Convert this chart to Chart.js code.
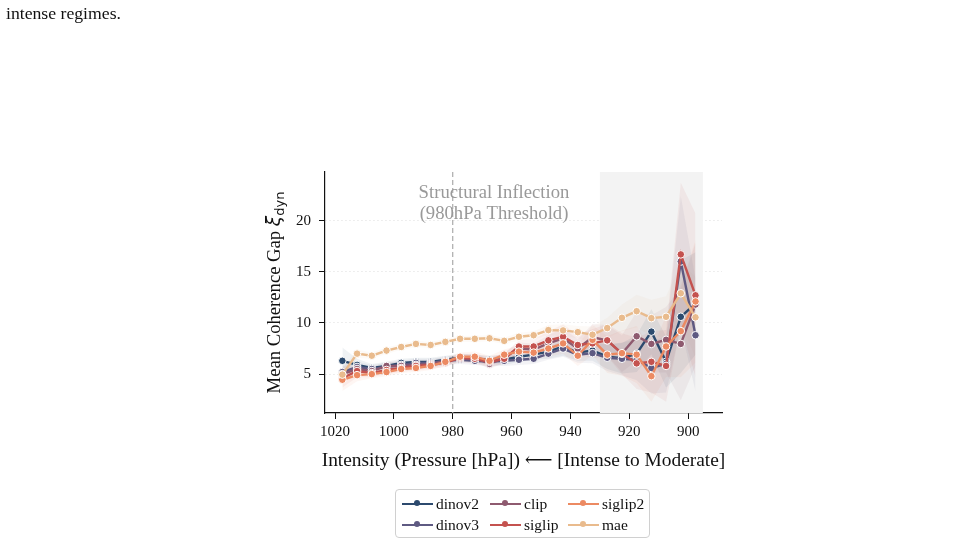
<!DOCTYPE html>
<html>
<head>
<meta charset="utf-8">
<script src="https://cdn.jsdelivr.net/npm/chart.js@4.4.1/dist/chart.umd.min.js"></script>
<style>
  body { margin: 0; background: #fff; }
  #wrap { position: relative; width: 962px; height: 545px; overflow: hidden; }
  #chart { position: absolute; left: 0; top: 0; }
  .caption { position: absolute; left: 6px; top: 3px; font: 17.7px "Liberation Serif", serif; color: #111; }
  #legend { position: absolute; left: 395px; top: 489px; width: 253px; height: 47px;
            border: 1px solid #d0d0d0; border-radius: 4px; font: 15.5px "Liberation Serif", serif; color: #111; }
  .item { position: absolute; height: 20px; display: flex; align-items: center; }
  .mark { position: relative; width: 31px; height: 2px; margin-right: 3px; }
  .mark i { position: absolute; left: 12px; top: -3px; width: 6px; height: 6px; border-radius: 50%; }
</style>
</head>
<body>
<div id="wrap">
  <canvas id="chart" width="962" height="545"></canvas>
  <div class="caption">intense regimes.</div>
  <div id="legend"></div>
</div>
<script>
// pressure bins (hPa), 5 hPa apart
const pressure = [1017.5, 1012.5, 1007.5, 1002.5, 997.5, 992.5, 987.5, 982.5, 977.5, 972.5,
                  967.5, 962.5, 957.5, 952.5, 947.5, 942.5, 937.5, 932.5, 927.5, 922.5,
                  917.5, 912.5, 907.5, 902.5, 897.5];

const seriesNames = ['dinov2', 'dinov3', 'clip', 'siglip', 'siglip2', 'mae'];
const seriesColors = ['#2c4a6e', '#5e5a82', '#8e5a6f', '#c4524f', '#ec8a62', '#e9bb8d'];

const dinov2 = [6.3, 5.9, 5.6, 5.8, 6.1, 6.2, 6.2, 6.4, 6.6, 6.5, 6.4, 6.4, 6.7, 6.9, 7.2, 7.7, 7.1, 7.3, 6.7, 6.55, 7.0, 9.15, 6.2, 10.6, 11.9];
const dinov3 = [5.2, 5.7, 5.5, 5.7, 5.9, 6.1, 6.1, 6.3, 6.4, 6.3, 6.2, 6.3, 6.4, 6.5, 7.0, 7.5, 6.9, 7.05, 6.6, 6.5, 6.4, 5.6, 6.0, 16.0, 8.8];
const clip = [5.0, 5.5, 5.3, 5.8, 5.8, 5.9, 6.0, 6.3, 6.5, 6.6, 6.0, 6.6, 7.5, 7.4, 8.0, 8.5, 7.5, 8.6, 8.3, 7.0, 8.7, 7.95, 8.35, 7.95, 11.8];
const siglip = [4.6, 5.3, 5.1, 5.4, 5.6, 5.8, 5.9, 6.1, 6.6, 6.5, 6.2, 6.5, 7.7, 7.7, 8.3, 8.65, 7.85, 8.0, 8.3, 7.0, 6.05, 6.2, 5.8, 16.7, 12.7];
const siglip2 = [4.45, 4.9, 5.0, 5.2, 5.5, 5.6, 5.8, 6.2, 6.7, 6.7, 6.3, 6.9, 7.2, 7.1, 7.5, 8.0, 6.8, 8.35, 6.9, 7.05, 6.9, 4.8, 7.7, 9.2, 12.1];
const mae = [4.95, 7.0, 6.8, 7.3, 7.65, 7.95, 7.85, 8.15, 8.45, 8.45, 8.5, 8.25, 8.65, 8.8, 9.3, 9.27, 9.1, 8.85, 9.5, 10.5, 11.15, 10.47, 10.6, 12.9, 10.55];

// spread (std) around each mean
const dinov2Std = [1.3, 0.6, 0.4, 0.4, 0.4, 0.4, 0.4, 0.4, 0.4, 0.4, 0.4, 0.5, 0.5, 0.5, 0.7, 0.9, 0.8, 1.0, 1.2, 1.5, 1.8, 2.2, 2.5, 5.5, 5.0];
const dinov3Std = [1.0, 0.5, 0.4, 0.4, 0.4, 0.4, 0.4, 0.4, 0.4, 0.4, 0.4, 0.5, 0.5, 0.5, 0.6, 0.8, 0.8, 1.0, 1.3, 1.6, 2.0, 2.5, 2.8, 6.4, 5.5];
const clipStd = [0.8, 0.5, 0.4, 0.4, 0.4, 0.4, 0.4, 0.4, 0.4, 0.4, 0.5, 0.5, 0.6, 0.6, 0.8, 1.0, 0.9, 1.3, 1.5, 1.8, 2.4, 2.8, 3.2, 5.5, 6.0];
const siglipStd = [0.9, 0.6, 0.4, 0.4, 0.4, 0.4, 0.4, 0.4, 0.4, 0.5, 0.5, 0.5, 0.6, 0.7, 0.9, 1.2, 1.0, 1.4, 1.6, 2.0, 2.5, 3.0, 3.5, 7.0, 8.0];
const siglip2Std = [1.1, 0.6, 0.4, 0.4, 0.4, 0.4, 0.4, 0.4, 0.4, 0.5, 0.5, 0.5, 0.6, 0.6, 0.8, 1.0, 1.0, 1.5, 1.8, 2.2, 2.8, 2.5, 3.0, 4.5, 6.0];
const maeStd = [0.6, 0.4, 0.3, 0.3, 0.3, 0.3, 0.3, 0.3, 0.3, 0.3, 0.3, 0.3, 0.4, 0.4, 0.5, 0.6, 0.6, 0.8, 1.0, 1.3, 1.6, 1.8, 2.0, 3.0, 4.0];

const xTicks = [1020, 1000, 980, 960, 940, 920, 900];
const yTicks = [5, 10, 15, 20];
const thresholdP = 980;
const shadeRange = [930, 895];
const annotationLines = ['Structural Inflection', '(980hPa Threshold)'];
const xTitle = 'Intensity (Pressure [hPa]) \u27F5 [Intense to Moderate]';

const means = [dinov2, dinov3, clip, siglip, siglip2, mae];
const stds = [dinov2Std, dinov3Std, clipStd, siglipStd, siglip2Std, maeStd];

const SERIF = '"Liberation Serif", "DejaVu Serif", serif';

function hexToRgba(hex, a) {
    const n = parseInt(hex.slice(1), 16);
    return `rgba(${(n >> 16) & 255}, ${(n >> 8) & 255}, ${n & 255}, ${a})`;
}

const datasets = [];
seriesNames.forEach((name, k) => {
    const upper = pressure.map((p, i) => ({ x: p, y: means[k][i] + stds[k][i] }));
    const lower = pressure.map((p, i) => ({ x: p, y: means[k][i] - stds[k][i] }));
    datasets.push({
        label: name + ' band', data: upper, fill: '+1',
        backgroundColor: hexToRgba(seriesColors[k], 0.075),
        borderWidth: 0, borderColor: 'rgba(0,0,0,0)', pointRadius: 0, order: 20 + k
    });
    datasets.push({
        label: name + ' low', data: lower, fill: false,
        borderWidth: 0, borderColor: 'rgba(0,0,0,0)', pointRadius: 0, order: 20 + k
    });
});
seriesNames.forEach((name, k) => {
    datasets.push({
        label: name,
        data: pressure.map((p, i) => ({ x: p, y: means[k][i] })),
        borderColor: seriesColors[k],
        backgroundColor: seriesColors[k],
        borderWidth: 2.4,
        pointRadius: 3.8,
        pointBackgroundColor: seriesColors[k],
        pointBorderColor: '#ffffff',
        pointBorderWidth: 1,
        fill: false,
        order: 6 - k
    });
});

const decorPlugin = {
    id: 'decor',
    beforeDatasetsDraw(chart) {
        const { ctx, chartArea: a, scales: { x } } = chart;
        ctx.save();
        const x1 = x.getPixelForValue(shadeRange[0]);
        const x2 = x.getPixelForValue(shadeRange[1]);
        ctx.fillStyle = '#f3f3f3';
        ctx.fillRect(x1, a.top, x2 - x1, a.bottom - a.top);
        const xt = x.getPixelForValue(thresholdP);
        ctx.strokeStyle = '#aaaaaa';
        ctx.lineWidth = 1.2;
        ctx.setLineDash([5, 3]);
        ctx.beginPath();
        ctx.moveTo(xt, a.top);
        ctx.lineTo(xt, a.bottom);
        ctx.stroke();
        ctx.restore();
    },
    afterDraw(chart) {
        const { ctx, chartArea: a } = chart;
        ctx.save();
        // annotation
        ctx.fillStyle = '#999999';
        ctx.font = '18.67px ' + SERIF;
        ctx.textAlign = 'center';
        ctx.textBaseline = 'alphabetic';
        ctx.fillText(annotationLines[0], 494, 198);
        ctx.fillText(annotationLines[1], 494, 219);
        // x title
        ctx.fillStyle = '#111';
        ctx.font = '19.4px ' + SERIF;
        ctx.fillText(xTitle, (a.left + a.right) / 2, 466);
        // y title with subscript
        const p1 = 'Mean Coherence Gap ';
        const f1 = '18.67px ' + SERIF;
        const f2 = 'italic 18.67px "DejaVu Sans", sans-serif';
        const f3 = '13px "DejaVu Sans", sans-serif';
        ctx.font = f1; const w1 = ctx.measureText(p1).width;
        ctx.font = f2; const w2 = ctx.measureText('\u03BE').width;
        ctx.font = f3; const w3 = ctx.measureText('dyn').width;
        const total = w1 + w2 + w3;
        ctx.translate(280, (a.top + a.bottom) / 2);
        ctx.rotate(-Math.PI / 2);
        ctx.textAlign = 'left';
        let cx = -total / 2;
        ctx.font = f1; ctx.fillText(p1, cx, 0); cx += w1;
        ctx.font = f2; ctx.fillText('\u03BE', cx, 0); cx += w2;
        ctx.font = f3; ctx.fillText('dyn', cx, 4);
        ctx.restore();
    }
};

new Chart(document.getElementById('chart'), {
    type: 'line',
    data: { datasets },
    options: {
        responsive: false,
        animation: false,
        layout: { padding: { top: 172, right: 240, bottom: 0, left: 0 } },
        plugins: { legend: { display: false }, tooltip: { enabled: false } },
        scales: {
            x: {
                type: 'linear', reverse: true, min: 888.5, max: 1023.4,
                afterBuildTicks: s => { s.ticks = xTicks.map(v => ({ value: v })); },
                afterFit: s => { s.height = 132; },
                ticks: { color: '#111', font: { family: SERIF, size: 15 }, padding: 4, maxRotation: 0,
                         callback: v => String(v) },
                grid: { drawOnChartArea: false, tickLength: 6, tickColor: '#111', tickWidth: 1 },
                border: { color: '#111', width: 1.2 }
            },
            y: {
                type: 'linear', min: 1.2, max: 24.75,
                afterBuildTicks: s => { s.ticks = yTicks.map(v => ({ value: v })); },
                afterFit: s => { s.width = 325; },
                ticks: { color: '#111', font: { family: SERIF, size: 15 }, padding: 8,
                         callback: v => String(v) },
                grid: { color: '#e2e2e2', lineWidth: 0.8, tickLength: 6, tickColor: '#111', tickWidth: 1 },
                border: { color: '#111', width: 1.2, dash: [1.5, 2.5] }
            }
        }
    },
    plugins: [decorPlugin]
});

// legend, column-major like the reference
const legendPos = [[6, 13.5], [6, 35], [94, 13.5], [94, 35], [172, 13.5], [172, 35]];
const legendEl = document.getElementById('legend');
seriesNames.forEach((name, k) => {
    const it = document.createElement('div');
    it.className = 'item';
    it.style.left = legendPos[k][0] + 'px';
    it.style.top = (legendPos[k][1] - 10) + 'px';
    it.innerHTML = `<span class="mark" style="background:${seriesColors[k]}"><i style="background:${seriesColors[k]}"></i></span><span>${name}</span>`;
    legendEl.appendChild(it);
});
</script>
</body>
</html>
